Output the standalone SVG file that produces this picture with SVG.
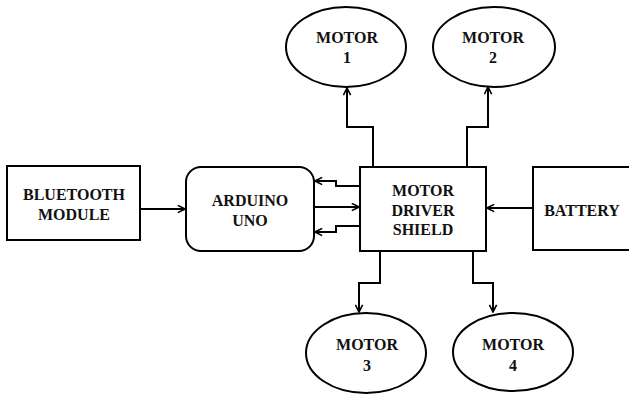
<svg xmlns="http://www.w3.org/2000/svg" width="629" height="394" viewBox="0 0 629 394">
<defs>
<marker id="ah" viewBox="0 0 10 10" refX="9" refY="5" markerWidth="9" markerHeight="9" markerUnits="userSpaceOnUse" orient="auto">
<path d="M1,1 L9,5 L1,9" fill="none" stroke="#000" stroke-width="1.8"/>
</marker>
<style>
.box{fill:#fff;stroke:#000;stroke-width:2}
.t{font-family:"Liberation Serif","Times New Roman",serif;font-weight:bold;font-size:16px;fill:#111;text-anchor:middle}
.c{fill:none;stroke:#000;stroke-width:2;marker-end:url(#ah)}
</style>
</defs>
<rect width="629" height="394" fill="#fff"/>
<g id="connectors">
<path class="c" d="M140,209 H185"/>
<path class="c" d="M360,186 H336 V181 H315"/>
<path class="c" d="M314,207 H359"/>
<path class="c" d="M360,226 H336 V232 H315"/>
<path class="c" d="M533,208 H487"/>
<path class="c" d="M373,166 V127 H347 V88"/>
<path class="c" d="M467,166 V127 H488 V87"/>
<path class="c" d="M380,251 V283 H359 V312"/>
<path class="c" d="M473,251 V283 H493 V312"/>
</g>
<g id="bluetooth">
<rect class="box" x="7" y="166" width="133" height="74"/>
<text class="t" x="74" y="200">BLUETOOTH</text>
<text class="t" x="74" y="220">MODULE</text>
</g>
<g id="arduino">
<rect class="box" x="186" y="167" width="128" height="84" rx="15"/>
<text class="t" x="250" y="206">ARDUINO</text>
<text class="t" x="250" y="226">UNO</text>
</g>
<g id="shield">
<rect class="box" x="360" y="167" width="126" height="84"/>
<text class="t" x="423" y="196">MOTOR</text>
<text class="t" x="423" y="216">DRIVER</text>
<text class="t" x="423" y="235">SHIELD</text>
</g>
<g id="battery">
<rect class="box" x="533" y="167" width="100" height="83"/>
<text class="t" x="582" y="216">BATTERY</text>
</g>
<g id="motor1">
<ellipse class="box" cx="346" cy="47" rx="60" ry="40"/>
<text class="t" x="347" y="43">MOTOR</text>
<text class="t" x="347" y="63">1</text>
</g>
<g id="motor2">
<ellipse class="box" cx="494" cy="47" rx="61" ry="40"/>
<text class="t" x="493" y="43">MOTOR</text>
<text class="t" x="493" y="63">2</text>
</g>
<g id="motor3">
<ellipse class="box" cx="366" cy="353" rx="60" ry="40"/>
<text class="t" x="367" y="350">MOTOR</text>
<text class="t" x="367" y="371">3</text>
</g>
<g id="motor4">
<ellipse class="box" cx="513" cy="352" rx="60" ry="39"/>
<text class="t" x="513" y="350">MOTOR</text>
<text class="t" x="513" y="371">4</text>
</g>
</svg>
